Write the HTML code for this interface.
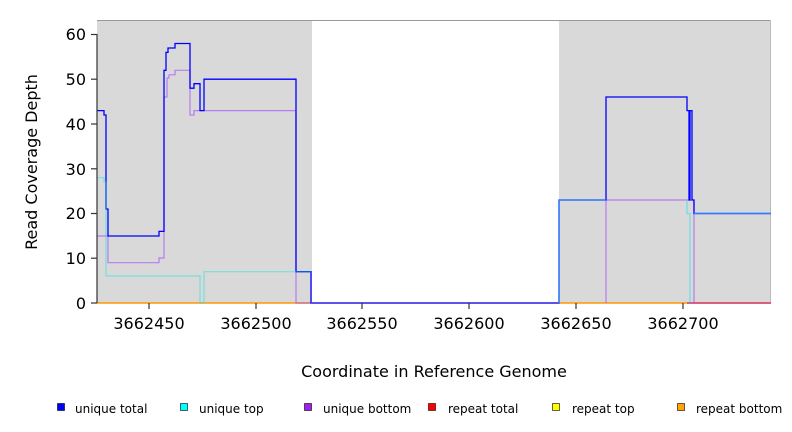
<!DOCTYPE html>
<html><head><meta charset="utf-8"><style>body{margin:0;background:#fff}svg{display:block}text{font-family:"DejaVu Sans","Liberation Sans",sans-serif;fill:#000}</style></head><body>
<svg width="792" height="432" viewBox="0 0 792 432">
<rect x="97" y="20" width="215" height="283" fill="#d9d9d9"/>
<rect x="559" y="20" width="212" height="283" fill="#d9d9d9"/>
<line x1="97" y1="20.5" x2="771" y2="20.5" stroke="#999" stroke-width="1"/>
<line x1="770.5" y1="20" x2="770.5" y2="303" stroke="#bbb"/>
<line x1="97" y1="303" x2="771" y2="303" stroke="#ff9900" stroke-width="1.5"/>
<line x1="687" y1="303" x2="771" y2="303" stroke="#d04080" stroke-width="1.5"/>
<!-- purple -->
<polyline fill="none" stroke="#a040ff" stroke-opacity="0.6" stroke-width="1.2" points="97,236 108,236 108,262.7 159,262.7 159,258 164,258 164,97 167,97 167,78 169,78 169,74.8 175,74.8 175,70.3 190,70.3 190,115 194,115 194,110.6 296,110.6 296,303 559,303"/>
<polyline fill="none" stroke="#a040ff" stroke-opacity="0.6" stroke-width="1.2" points="606,303 606,200 694,200 694,303"/>
<!-- blue -->
<polyline fill="none" stroke="#0000ff" stroke-width="1.3" points="97,110.6 104,110.6 104,115 106,115 106,209 108,209 108,236 159,236 159,231.4 164,231.4 164,70.3 166,70.3 166,52.4 168,52.4 168,48 175,48 175,43.5 190,43.5 190,88.2 194,88.2 194,83.7 200,83.7 200,110.6 204,110.6 204,79.2 296,79.2 296,271.7 311,271.7 311,303 559,303 559,200 606,200 606,97 687,97 687,110.6 689,110.6 689,200 690,200 690,110.6 692,110.6 692,200 694,200 694,213.5 771,213.5"/>
<line x1="311" y1="303" x2="559" y2="303" stroke="#4040ff" stroke-width="1.5"/>
<!-- cyan -->
<polyline fill="none" stroke="#00e5e5" stroke-opacity="0.45" stroke-width="1.2" points="97,177.7 104,177.7 104,182 106,182 106,276 200,276 200,303 204,303 204,271.7 311,271.7"/>
<polyline fill="none" stroke="#2a80ff" stroke-width="1.3" points="559,303 559,200 606,200"/>
<polyline fill="none" stroke="#2a80ff" stroke-width="1.4" points="694,213.5 771,213.5"/>
<polyline fill="none" stroke="#00e5e5" stroke-opacity="0.5" stroke-width="1.2" points="687,200 687,213.5 690,213.5 690,303"/>
<g stroke="#333" stroke-width="1.2">
<line x1="97" y1="303" x2="97" y2="34"/>
<line x1="91" y1="303" x2="97" y2="303"/><line x1="91" y1="258.2" x2="97" y2="258.2"/><line x1="91" y1="213.5" x2="97" y2="213.5"/><line x1="91" y1="168.8" x2="97" y2="168.8"/><line x1="91" y1="124" x2="97" y2="124"/><line x1="91" y1="79.2" x2="97" y2="79.2"/><line x1="91" y1="34.5" x2="97" y2="34.5"/>
<line x1="149" y1="303" x2="149" y2="309"/><line x1="256" y1="303" x2="256" y2="309"/><line x1="362" y1="303" x2="362" y2="309"/><line x1="469" y1="303" x2="469" y2="309"/><line x1="576" y1="303" x2="576" y2="309"/><line x1="683" y1="303" x2="683" y2="309"/>
</g>
<g font-size="16" text-anchor="end">
<text x="86" y="309">0</text><text x="86" y="264">10</text><text x="86" y="219">20</text><text x="86" y="175">30</text><text x="86" y="130">40</text><text x="86" y="85">50</text><text x="86" y="40">60</text>
</g>
<g font-size="16" text-anchor="middle">
<text x="149" y="329">3662450</text><text x="256" y="329">3662500</text><text x="362" y="329">3662550</text><text x="469" y="329">3662600</text><text x="576" y="329">3662650</text><text x="683" y="329">3662700</text>
<text x="434" y="377">Coordinate in Reference Genome</text>
<text transform="translate(37,162) rotate(-90)">Read Coverage Depth</text>
</g>
<g font-size="12" stroke="#000" stroke-width="0.6">
<rect x="57.5" y="403.5" width="7" height="7" fill="#0000ff"/>
<rect x="180.5" y="403.5" width="7" height="7" fill="#00ffff"/>
<rect x="304.5" y="403.5" width="7" height="7" fill="#a020f0"/>
<rect x="428.5" y="403.5" width="7" height="7" fill="#ff0000"/>
<rect x="552.5" y="403.5" width="7" height="7" fill="#ffff00"/>
<rect x="677.5" y="403.5" width="7" height="7" fill="#ffa500"/>
</g>
<g font-size="12">
<text x="75" y="413">unique total</text><text x="199" y="413">unique top</text><text x="323" y="413">unique bottom</text><text x="448" y="413">repeat total</text><text x="572" y="413">repeat top</text><text x="696" y="413">repeat bottom</text>
</g>
</svg>
</body></html>
